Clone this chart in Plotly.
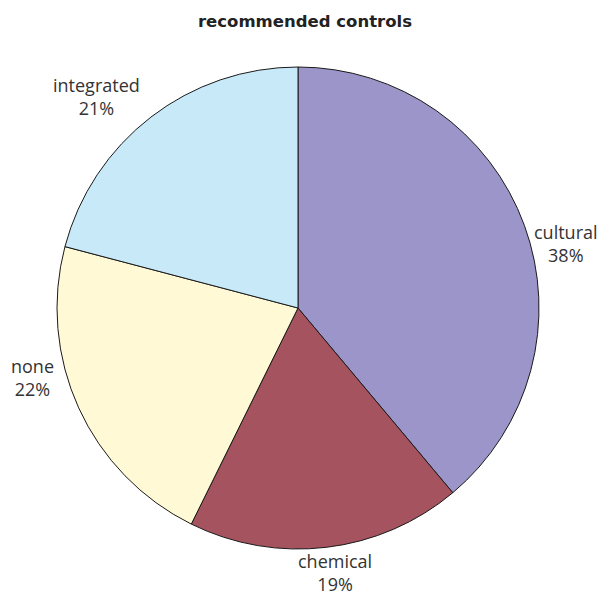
import plotly.graph_objects as go

labels = ["cultural", "chemical", "none", "integrated"]
values = [38.9, 18.4, 21.8, 20.9]
pct_labels = ["38%", "19%", "22%", "21%"]
colors = ["#9B95C9", "#A5535E", "#FFFAD5", "#C7E9F8"]

W, H = 600, 597
cx, cy, r = 298, 308, 241
# label centre positions in pixels (layout only)
label_pos = [(566, 243), (335, 572), (32, 377), (97, 96)]

fig = go.Figure(go.Pie(
    labels=labels, values=values, sort=False, direction="clockwise", rotation=0,
    marker=dict(colors=colors, line=dict(color="#1a1a1a", width=1)),
    textinfo="none", customdata=pct_labels, hovertemplate="%{label}<br>%{customdata}<extra></extra>",
    domain=dict(x=[(cx - r) / W, (cx + r) / W], y=[1 - (cy + r) / H, 1 - (cy - r) / H]),
    showlegend=False,
))
for lab, pct, (px, py) in zip(labels, pct_labels, label_pos):
    fig.add_annotation(
        text=f"{lab}<br>{pct}", x=px / W, y=1 - py / H, xref="paper", yref="paper",
        xanchor="center", yanchor="middle", showarrow=False, borderpad=0,
        font=dict(family="Open Sans", size=18, color="#333333"),
    )
fig.update_layout(
    width=W, height=H, margin=dict(l=0, r=0, t=0, b=0),
    paper_bgcolor="white", plot_bgcolor="white",
    title=dict(text="<b>recommended controls</b>", x=305 / W, xanchor="center", y=1 - 21 / H, yanchor="middle",
               font=dict(family="DejaVu Sans", size=16.5, color="#222222")),
)
fig.write_html("out.html")
